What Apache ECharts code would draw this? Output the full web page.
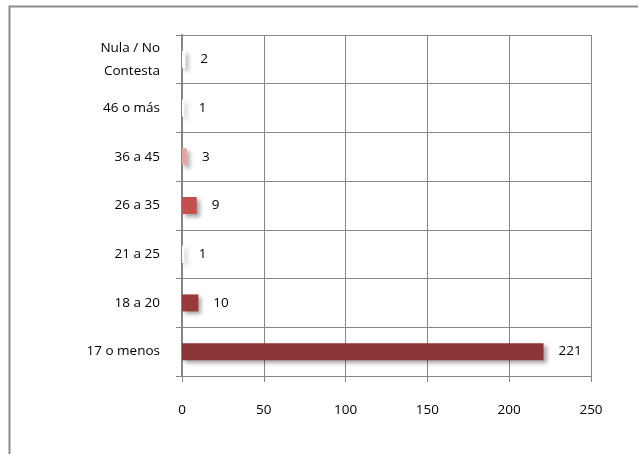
<!DOCTYPE html>
<html><head><meta charset="utf-8">
<script src="https://cdn.jsdelivr.net/npm/echarts@6/dist/echarts.min.js"></script>
<style>html,body{margin:0;padding:0;background:#fff}#c{width:638px;height:454px}</style>
</head><body><div id="c"></div>
<script>
const categories = ['17 o menos','18 a 20','21 a 25','26 a 35','36 a 45','46 o más','Nula / No\nContesta'];
const values = [221, 10, 1, 9, 3, 1, 2];
const barColors = ['#8C3536','#973A3A','#FFFFFF','#C4504E','#E7A3A3','#FFFFFF','#FFFFFF'];
const xTicks = [0, 50, 100, 150, 200, 250];

const chart = echarts.init(document.getElementById('c'), null, {renderer:'canvas'});
const font = '"Open Sans", "Noto Sans", sans-serif';
chart.setOption({
  animation:false,
  graphic:[{type:'rect', shape:{x:9.5,y:6.5,width:700,height:600}, style:{fill:'none',stroke:'#8c8c8c',lineWidth:2}, silent:true}],
  grid:{left:182, right:47, top:35, bottom:78},
  xAxis:{type:'value', min:xTicks[0], max:xTicks[xTicks.length-1], interval:50,
    axisLine:{show:true, lineStyle:{color:'#868686', width:1}},
    axisTick:{show:true, length:6, lineStyle:{color:'#868686'}},
    axisLabel:{margin:27, color:'#000', fontSize:13.5, fontFamily:font},
    splitLine:{show:true, lineStyle:{color:'#868686', width:1}}},
  yAxis:{type:'category', data:categories,
    axisLine:{show:true, lineStyle:{color:'#868686', width:2}},
    axisTick:{show:true, length:6, lineStyle:{color:'#868686'}},
    axisLabel:{margin:22, color:'#000', fontSize:13.5, fontFamily:font, lineHeight:23, align:'right'},
    splitLine:{show:true, lineStyle:{color:'#868686', width:1}}},
  series:[{type:'bar', barWidth:17,
    data: values.map((v,i)=>({value:v, itemStyle:{color:barColors[i]}})),
    itemStyle:{shadowColor:'rgba(0,0,0,0.35)', shadowBlur:4, shadowOffsetX:3, shadowOffsetY:3},
    label:{show:true, position:'right', distance:15, color:'#000', fontSize:13.5, fontFamily:font}}]
});
</script></body></html>
